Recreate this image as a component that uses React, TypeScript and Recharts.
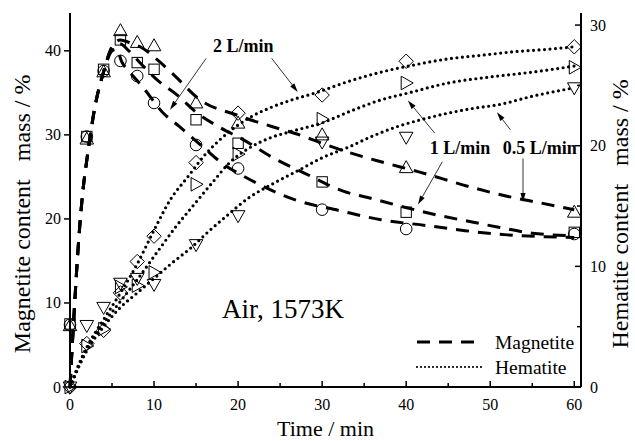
import React from 'react';
import { ComposedChart, Line, Scatter, XAxis, YAxis, ReferenceLine, ReferenceDot, Legend } from 'recharts';

const FONT = 'Liberation Serif';
const fontStyle = { fontFamily: '"Liberation Serif", "Times New Roman", serif', whiteSpace: 'pre' as const };

// ---- axes ----
const timeTicks = [0, 5, 10, 15, 20, 25, 30, 35, 40, 45, 50, 55, 60];
const timeLabels = [0, 10, 20, 30, 40, 50, 60];
const magTicks = [0, 10, 20, 30, 40];
const hemTicks = [0, 5, 10, 15, 20, 25, 30];
const hemLabels = [0, 10, 20, 30];

// ---- measured points (time in min) ----
const sampleTimes = [0, 2, 4, 6, 8, 10, 15, 20, 30, 40, 60];
// Magnetite (left axis)
const magCircle = [7.4, 29.8, 37.6, 38.8, 37.0, 33.8, 28.8, 26.0, 21.1, 18.8, 18.2];   // 2 L/min
const magSquare = [7.5, 29.8, 37.8, 41.3, 38.6, 37.8, 31.8, 29.0, 24.4, 20.8, 18.4];   // 1 L/min
const magTriangle = [7.3, 29.5, 37.5, 42.4, 41.0, 40.6, 33.8, 31.4, 30.0, 26.1, 20.8]; // 0.5 L/min
// Hematite (right axis)
const hemDiamond = [0, 3.6, 4.7, 7.8, 10.4, 12.5, 18.6, 22.7, 24.2, 27.0, 28.2];   // 2 L/min
const hemRight = [0, 3.4, 4.8, 8.3, 8.4, 9.5, 16.8, 19.3, 22.2, 25.2, 26.5];        // 1 L/min
const hemDown = [0, 5.1, 6.6, 8.6, 9.0, 8.5, 11.8, 14.2, 20.3, 20.7, 24.8];         // 0.5 L/min

// ---- fitted curves [time, value] ----
const fitMagCircle = [[0, 0], [0.5, 9], [1, 17], [1.5, 23], [2, 27], [3, 33.5], [4, 37.5], [5, 40.0], [5.5, 40.2], [6.2, 38.6], [7, 37.6], [8.8, 35.5], [11, 32.7], [13, 31.0], [16, 28.4], [18, 26.7], [21, 24.9], [27, 22.2], [32, 21.0], [37, 19.9], [42.5, 19.2], [47, 18.6], [52, 18.1], [56, 17.9], [60, 17.8]];
const fitMagSquare = [[0, 0], [0.5, 9], [1, 17], [1.5, 23], [2, 27], [3, 33.5], [4, 37.5], [5, 40.3], [6, 40.8], [7, 40.0], [8.5, 38.4], [10.3, 36.6], [12.8, 34.7], [15, 32.7], [17.8, 30.9], [20.5, 29.5], [24.3, 27.2], [28, 25.4], [32.5, 23.3], [36, 22.4], [39, 21.6], [43.5, 20.5], [48, 19.6], [51, 19.0], [55, 18.3], [60, 18.0]];
const fitMagTriangle = [[0, 0], [0.5, 9], [1, 17], [1.5, 23], [2, 27], [3, 33.5], [4, 37.5], [5, 40.5], [6, 41.3], [7.5, 40.8], [8.5, 40.4], [10.3, 39.0], [12.6, 36.9], [15.3, 34.3], [20, 32.3], [24, 31.0], [27, 30.1], [30, 29.0], [33.2, 27.9], [37, 26.8], [41.5, 25.6], [48, 23.7], [52, 22.7], [56, 21.9], [60, 21.1]];
const fitHemDiamond = [[0, 0], [1, 1.8], [2, 3.3], [4, 5.6], [6, 7.8], [8, 10.2], [10, 13.0], [12, 15.6], [14, 17.4], [16, 19.2], [18, 20.6], [21.3, 22.3], [24, 23.2], [26.4, 23.8], [29.3, 24.4], [33, 25.3], [37, 26.1], [41, 26.7], [45, 27.2], [49, 27.5], [53, 27.8], [57, 28.0], [60, 28.2]];
const fitHemRight = [[0, 0], [1, 1.7], [2, 3.2], [4, 5.3], [6, 7.1], [8, 8.9], [10.6, 11.4], [12.5, 13.2], [14.5, 14.9], [17, 17.0], [19, 18.6], [21.3, 19.8], [24, 20.7], [26.4, 21.2], [30, 21.9], [33.5, 22.9], [37, 23.8], [40.4, 24.4], [45, 25.2], [50, 25.7], [55, 26.1], [60, 26.6]];
const fitHemDown = [[0, 0], [1, 1.6], [2, 3.0], [4, 5.0], [6, 6.6], [8, 7.8], [10, 9.0], [12, 10.2], [14.5, 11.6], [16.5, 12.9], [18.5, 14.1], [21.3, 15.7], [24, 16.8], [27.3, 18.0], [30, 19.0], [33.2, 19.9], [36, 20.8], [39, 21.6], [42, 22.2], [45, 22.7], [48, 23.1], [51, 23.4], [55, 24.1], [60, 24.8]];

// ---- annotations (positions in time / magnetite-axis units) ----
const annotationTexts = [
  { t: 17.0, v: 39.9, text: '2 L/min' },
  { t: 42.8, v: 27.7, text: '1 L/min' },
  { t: 51.5, v: 27.7, text: '0.5 L/min' },
];
const arrowSegments = [
  [[16.2, 39.1], [11.9, 33.0]],
  [[24.0, 39.1], [27.1, 35.1]],
  [[43.4, 30.2], [40.2, 34.1]],
  [[44.3, 26.8], [41.4, 21.7]],
  [[52.4, 30.6], [50.8, 32.7]],
  [[53.9, 27.2], [53.9, 22.0]],
];
const conditionLabel = { t: 18.1, v: 8.2, text: 'Air, 1573K' };
const axisTitles = [
  { t: 30.4, v: -5.83, text: 'Time / min', rotate: false },
  { t: -5.71, v: 20.6, text: 'Magnetite content   mass / %', rotate: true },
  { t: 65.44, v: 20.6, text: 'Hematite content   mass / %', rotate: true },
];

const toPts = (vals: number[]) => sampleTimes.map((t, i) => ({ t, v: vals[i] }));
const toFit = (pairs: number[][]) => pairs.map(([t, v]) => ({ t, v }));

const SW = 1;
const CircleM = (p: any) => <circle cx={p.cx} cy={p.cy} r={5.8} fill="none" stroke="#000" strokeWidth={SW} />;
const SquareM = (p: any) => <rect x={p.cx - 5.2} y={p.cy - 5.2} width={10.4} height={10.4} fill="none" stroke="#000" strokeWidth={SW} />;
const TriUpM = (p: any) => <polygon points={`${p.cx},${p.cy - 7} ${p.cx - 6.8},${p.cy + 5} ${p.cx + 6.8},${p.cy + 5}`} fill="none" stroke="#000" strokeWidth={SW} />;
const TriDownM = (p: any) => <polygon points={`${p.cx},${p.cy + 7} ${p.cx - 6.8},${p.cy - 5} ${p.cx + 6.8},${p.cy - 5}`} fill="none" stroke="#000" strokeWidth={SW} />;
const TriRightM = (p: any) => <polygon points={`${p.cx + 7},${p.cy} ${p.cx - 5},${p.cy - 6.8} ${p.cx - 5},${p.cy + 6.8}`} fill="none" stroke="#000" strokeWidth={SW} />;
const DiamondM = (p: any) => <polygon points={`${p.cx},${p.cy - 7.2} ${p.cx + 7.2},${p.cy} ${p.cx},${p.cy + 7.2} ${p.cx - 7.2},${p.cy}`} fill="none" stroke="#000" strokeWidth={SW} />;

const BottomTick = (p: any) => {
  const v = p.payload.value;
  const major = timeLabels.includes(v);
  return (
    <g>
      <line x1={p.x} y1={p.y} x2={p.x} y2={p.y - (major ? 6 : 4)} stroke="#000" strokeWidth={1.5} />
      {major && (
        <text x={p.x} y={p.y + 23} textAnchor="middle" fontSize={16} fontFamily={FONT} style={fontStyle} fill="#000">{v}</text>
      )}
    </g>
  );
};
const LeftTick = (p: any) => (
  <g>
    <line x1={p.x - 6} y1={p.y} x2={p.x} y2={p.y} stroke="#000" strokeWidth={1.5} />
    <text x={p.x - 9} y={p.y + 5.5} textAnchor="end" fontSize={16} fontFamily={FONT} style={fontStyle} fill="#000">{p.payload.value}</text>
  </g>
);
const RightTick = (p: any) => {
  const v = p.payload.value;
  const major = hemLabels.includes(v);
  return (
    <g>
      <line x1={p.x - (major ? 6 : 4)} y1={p.y} x2={p.x} y2={p.y} stroke="#000" strokeWidth={1.5} />
      {major && (
        <text x={p.x + 9} y={p.y + 5.5} textAnchor="start" fontSize={16} fontFamily={FONT} style={fontStyle} fill="#000">{v}</text>
      )}
    </g>
  );
};

const ArrowShape = (p: any) => {
  const { x1, y1, x2, y2 } = p;
  const a = Math.atan2(y2 - y1, x2 - x1);
  const L = 9, W = 2.6;
  const bx = x2 - L * Math.cos(a), by = y2 - L * Math.sin(a);
  const px = -Math.sin(a) * W, py = Math.cos(a) * W;
  return (
    <g>
      <line x1={x1} y1={y1} x2={bx} y2={by} stroke="#000" strokeWidth={0.8} />
      <polygon points={`${x2},${y2} ${bx + px},${by + py} ${bx - px},${by - py}`} fill="#000" />
    </g>
  );
};

const textShape = (text: string, size: number, bold: boolean) => (p: any) => (
  <text x={p.cx} y={p.cy} fontSize={size} fontWeight={bold ? 'bold' : 'normal'} fontFamily={FONT} style={fontStyle} fill="#000">{text}</text>
);
const titleShape = (text: string, rotate: boolean) => (p: any) => (
  <text x={p.cx} y={p.cy} transform={rotate ? `rotate(-90 ${p.cx} ${p.cy})` : undefined}
    textAnchor="middle" dominantBaseline={rotate ? 'central' : 'auto'} fontSize={rotate ? 24 : 22} fontFamily={FONT} style={fontStyle} fill="#000">{text}</text>
);

const LegendBox = () => (
  <svg width={190} height={52} style={{ display: 'block' }}>
    <line x1={5} y1={11} x2={71} y2={11} stroke="#000" strokeWidth={3} strokeDasharray="13 9" />
    <text x={83} y={18} fontSize={19.5} fontFamily={FONT} style={fontStyle} fill="#000">Magnetite</text>
    <line x1={5} y1={36} x2={71} y2={36} stroke="#000" strokeWidth={2.2} strokeDasharray="0 4" strokeLinecap="round" />
    <text x={83} y={43} fontSize={19.5} fontFamily={FONT} style={fontStyle} fill="#000">Hematite</text>
  </svg>
);

const dashed = { stroke: '#000', strokeWidth: 3, strokeDasharray: '13 9' };
const dotted = { stroke: '#000', strokeWidth: 3.2, strokeDasharray: '0 5.5', strokeLinecap: 'round' as const };

export default function App() {
  return (
    <div style={{ position: 'absolute', left: 0, top: 0, width: 635, height: 441, background: '#fff' }}>
      <ComposedChart width={635} height={441} margin={{ top: 13, right: 0, bottom: 0, left: 0 }}>
        <XAxis xAxisId={0} dataKey="t" type="number" domain={[0, 60.8]} ticks={timeTicks} interval={0}
          height={54} tickSize={0} tickMargin={0} tickLine={false} tick={<BottomTick />}
          axisLine={{ stroke: '#000', strokeWidth: 2 }} />
        <XAxis xAxisId="top" orientation="top" dataKey="t" type="number" domain={[0, 60.8]} height={0}
          tick={false} tickLine={false} axisLine={{ stroke: '#000', strokeWidth: 2 }} />
        <YAxis yAxisId="left" type="number" domain={[0, 44.5]} ticks={magTicks} interval={0} width={70}
          tickSize={0} tickMargin={0} tickLine={false} tick={<LeftTick />}
          axisLine={{ stroke: '#000', strokeWidth: 2 }} />
        <YAxis yAxisId="right" orientation="right" type="number" domain={[0, 31]} ticks={hemTicks} interval={0} width={54}
          tickSize={0} tickMargin={0} tickLine={false} tick={<RightTick />}
          axisLine={{ stroke: '#000', strokeWidth: 2 }} />

        <Line data={toFit(fitMagCircle)} dataKey="v" yAxisId="left" type="monotone" dot={false} activeDot={false} {...dashed} isAnimationActive={false} />
        <Line data={toFit(fitMagSquare)} dataKey="v" yAxisId="left" type="monotone" dot={false} activeDot={false} {...dashed} isAnimationActive={false} />
        <Line data={toFit(fitMagTriangle)} dataKey="v" yAxisId="left" type="monotone" dot={false} activeDot={false} {...dashed} isAnimationActive={false} />
        <Line data={toFit(fitHemDiamond)} dataKey="v" yAxisId="right" type="monotone" dot={false} activeDot={false} {...dotted} isAnimationActive={false} />
        <Line data={toFit(fitHemRight)} dataKey="v" yAxisId="right" type="monotone" dot={false} activeDot={false} {...dotted} isAnimationActive={false} />
        <Line data={toFit(fitHemDown)} dataKey="v" yAxisId="right" type="monotone" dot={false} activeDot={false} {...dotted} isAnimationActive={false} />

        <Scatter data={toPts(magCircle)} dataKey="v" yAxisId="left" shape={CircleM} isAnimationActive={false} />
        <Scatter data={toPts(magSquare)} dataKey="v" yAxisId="left" shape={SquareM} isAnimationActive={false} />
        <Scatter data={toPts(magTriangle)} dataKey="v" yAxisId="left" shape={TriUpM} isAnimationActive={false} />
        <Scatter data={toPts(hemDiamond)} dataKey="v" yAxisId="right" shape={DiamondM} isAnimationActive={false} />
        <Scatter data={toPts(hemRight)} dataKey="v" yAxisId="right" shape={TriRightM} isAnimationActive={false} />
        <Scatter data={toPts(hemDown)} dataKey="v" yAxisId="right" shape={TriDownM} isAnimationActive={false} />

        {arrowSegments.map((s, i) => (
          <ReferenceLine key={'a' + i} yAxisId="left" segment={[{ x: s[0][0], y: s[0][1] }, { x: s[1][0], y: s[1][1] }]}
            ifOverflow="visible" shape={ArrowShape} />
        ))}
        {annotationTexts.map((a, i) => (
          <ReferenceDot key={'t' + i} yAxisId="left" x={a.t} y={a.v} r={0} ifOverflow="visible" shape={textShape(a.text, 18, true)} />
        ))}
        <ReferenceDot yAxisId="left" x={conditionLabel.t} y={conditionLabel.v} r={0} ifOverflow="visible" shape={textShape(conditionLabel.text, 27, false)} />
        {axisTitles.map((a, i) => (
          <ReferenceDot key={'x' + i} yAxisId="left" x={a.t} y={a.v} r={0} ifOverflow="visible" shape={titleShape(a.text, a.rotate)} />
        ))}

        <Legend layout="vertical" align="center" verticalAlign="middle" content={LegendBox}
          wrapperStyle={{ position: 'absolute', left: 412, top: 331, width: 190, height: 52 }} />
      </ComposedChart>
    </div>
  );
}
